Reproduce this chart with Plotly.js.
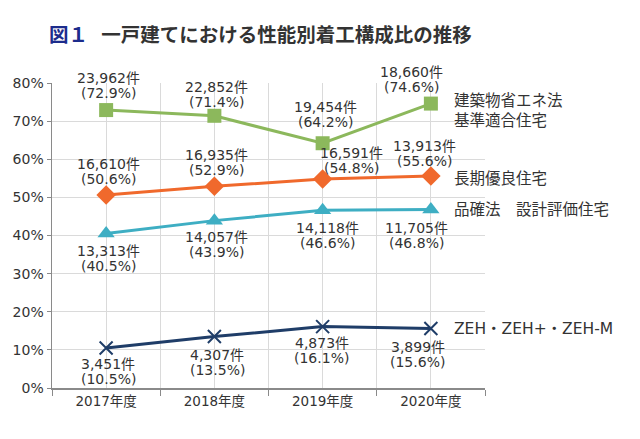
<!DOCTYPE html>
<html><head><meta charset="utf-8">
<script src="https://cdn.plot.ly/plotly-3.0.1.min.js"></script>
<style>html,body{margin:0;padding:0;background:#fff}#chart{width:640px;height:439px}</style>
</head><body><div id="chart"></div>
<script>
const years = ['2017年度','2018年度','2019年度','2020年度'];
const seriesNames = ['建築物省エネ法<br>基準適合住宅','長期優良住宅','品確法　設計評価住宅','ZEH・ZEH+・ZEH-M'];
const shoeneShare = [72.9, 71.4, 64.2, 74.6];
const shoeneCount = [23962, 22852, 19454, 18660];
const chokiShare = [50.6, 52.9, 54.8, 55.6];
const chokiCount = [16610, 16935, 16591, 13913];
const hinkakuShare = [40.5, 43.9, 46.6, 46.8];
const hinkakuCount = [13313, 14057, 14118, 11705];
const zehShare = [10.5, 13.5, 16.1, 15.6];
const zehCount = [3451, 4307, 4873, 3899];
const yTicks = [0,10,20,30,40,50,60,70,80];

const FONT = "'DejaVu Sans', 'Noto Sans CJK JP', sans-serif";
const TXT = '#333333';
const xs = years.map((_, i) => i);

const styles = [
  {color:'#8cb85c', symbol:'square', size:14},
  {color:'#f0692c', symbol:'diamond', size:15},
  {color:'#3eaec3', symbol:'triangle-up', size:15},
  {color:'#1f3d68', symbol:'x-thin', size:13}
];
const shares = [shoeneShare, chokiShare, hinkakuShare, zehShare];
const counts = [shoeneCount, chokiCount, hinkakuCount, zehCount];
// label offsets (px): [xshift, yshift of label block centre]
const labelOffsets = [
  [[2,25],[2,21],[3,29],[-19,24]],
  [[2,24],[2,23.5],[29,18.5],[-6,23]],
  [[2,-25],[2,-24],[5,-25],[-14,-26]],
  [[2,-24],[3,-25.5],[-1,-24],[-13,-26]]
];
const nameOffsets = [-7, -3, 0, 0];

const traces = shares.map((s, k) => ({
  x: xs, y: s, type:'scatter', mode:'lines+markers', name: seriesNames[k],
  line:{color: styles[k].color, width:3},
  marker:{symbol: styles[k].symbol, size: styles[k].size, color: styles[k].color,
          line:{color: styles[k].color, width: k===3 ? 2 : 0}},
  hoverinfo:'skip'
}));

const annotations = [];
shares.forEach((s, k) => {
  s.forEach((v, i) => {
    const [dx, dy] = labelOffsets[k][i];
    annotations.push({x: xs[i], y: v, xref:'x', yref:'y', showarrow:false,
      text: counts[k][i].toLocaleString('en-US') + '件',
      xshift: dx, yshift: dy + 7.5, font:{family:FONT, size:14, color:TXT}});
    annotations.push({x: xs[i], y: v, xref:'x', yref:'y', showarrow:false,
      text: '(' + v.toFixed(1) + '%)',
      xshift: dx, yshift: dy - 7.5, font:{family:FONT, size:14, color:TXT}});
  });
  annotations.push({x: xs[3], y: s[3], xref:'x', yref:'y', showarrow:false,
    xanchor:'left', align:'left', text: seriesNames[k], xshift: 21, yshift: nameOffsets[k],
    font:{family:FONT, size:15.5, color:TXT}});
});

const layout = {
  width:640, height:439,
  margin:{l:52, r:155, t:83, b:51},
  paper_bgcolor:'#ffffff', plot_bgcolor:'#ffffff',
  showlegend:false,
  title:{text:'<span style="color:#1c2c8c">図１</span>&nbsp;&nbsp;&nbsp;一戸建てにおける性能別着工構成比の推移',
         x:49/640, xanchor:'left', xref:'container', y:1-35/439, yanchor:'middle', yref:'container',
         font:{family:"'Noto Sans CJK JP', sans-serif", size:19.5, color:'#333333', weight:'bold'}},
  xaxis:{type:'linear', range:[-0.5, 3.5], tickvals: xs, ticktext: years,
         ticks:'', showgrid:true, gridcolor:'#dadada', gridwidth:1,
         showline:true, linecolor:'#8a8a8a', linewidth:1.5, zeroline:false,
         tickfont:{family:FONT, size:13.5, color:TXT},
         minor:{tick0:-0.5, dtick:1, showgrid:true, gridcolor:'#dadada', ticks:'outside', ticklen:6, tickcolor:'#8a8a8a', tickwidth:1},
         fixedrange:true},
  yaxis:{range:[0, 80], tickvals: yTicks, ticktext: yTicks.map(v => v + '%'),
         ticks:'outside', ticklen:4, tickcolor:'#8a8a8a',
         showgrid:true, gridcolor:'#dadada', gridwidth:1,
         showline:true, linecolor:'#8a8a8a', linewidth:1.5, zeroline:false,
         tickfont:{family:FONT, size:14, color:TXT}, fixedrange:true},
  annotations: annotations
};

Plotly.newPlot('chart', traces, layout, {displayModeBar:false, staticPlot:true});
</script>
</body></html>
